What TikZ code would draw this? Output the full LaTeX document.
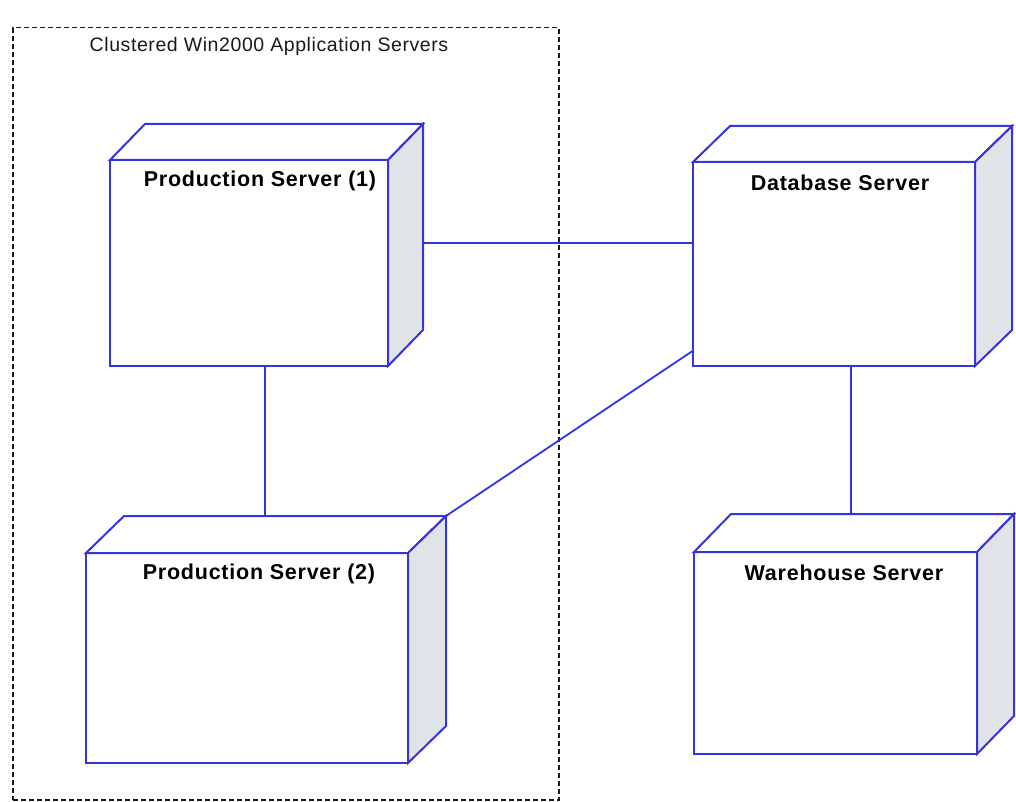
\documentclass[tikz,border=0pt]{standalone}
\usepackage{fontspec}
\setmainfont{Liberation Sans}
\usetikzlibrary{calc}
\definecolor{nodeblue}{RGB}{52,52,222}
\definecolor{sidegray}{RGB}{224,227,231}
\tikzset{
  front/.style={draw=nodeblue, line width=2pt, fill=white, rectangle, inner sep=0pt, outer sep=0pt, anchor=north west},
  face/.style={draw=nodeblue, line width=2pt, line join=miter},
  conn/.style={draw=nodeblue, line width=1.8pt},
  lbl/.style={font=\fontsize{21.5}{25}\selectfont\bfseries\addfontfeatures{LetterSpace=3.5}, text=black, inner sep=0pt},
  cluster/.style={draw=black!90, line width=1.5pt, dash pattern=on 5pt off 3pt},
  clbl/.style={font=\fontsize{19.5}{23}\selectfont\addfontfeatures{LetterSpace=3}, text=black!90, inner sep=0pt}
}
% front box + top + side faces; #1 name, #2 x, #3 y, #4 w, #5 h, #6 dx, #7 dy(up)
\newcommand{\serverbox}[7]{%
  \node[front, minimum width=#4pt, minimum height=#5pt] (#1) at (#2,#3) {};
  \coordinate (#1-bnw) at ($(#1.north west)+(#6,-#7)$);
  \coordinate (#1-bne) at ($(#1.north east)+(#6,-#7)$);
  \coordinate (#1-bse) at ($(#1.south east)+(#6,-#7)$);
  \filldraw[face, fill=white] (#1.north west) -- (#1-bnw) -- (#1-bne) -- (#1.north east) -- cycle;
  \filldraw[face, fill=sidegray] (#1.north east) -- (#1-bne) -- (#1-bse) -- (#1.south east) -- cycle;
}
\begin{document}
\begin{tikzpicture}[x=1pt,y=-1pt]
\useasboundingbox (0,0) rectangle (1016,802);
% cluster
\node[cluster, rectangle, minimum width=546pt, minimum height=772pt, anchor=north west, inner sep=0pt] (clus) at (12,27) {};
\node[clbl] (clustlbl) at (269,46) {Clustered Win2000 Application Servers};
% servers
\serverbox{ps1}{110}{160}{278}{206}{35}{36}
\serverbox{ps2}{86}{553}{322}{210}{38}{37}
\serverbox{db}{693}{162}{282}{204}{37}{36}
\serverbox{wh}{694}{552}{283}{202}{37}{38}
% labels
\node[lbl] (ps1lbl) at (260,181) {Production Server (1)};
\node[lbl] (ps2lbl) at (259,574) {Production Server (2)};
\node[lbl] (dblbl) at (840,183) {Database Server};
\node[lbl] (whlbl) at (844,573) {Warehouse Server};
% connectors
\coordinate (dbA) at ($(db.north west)!0.397!(db.south west)$);
\coordinate (dbB) at ($(db.north west)!0.925!(db.south west)$);
\coordinate (ps1S) at ($(ps1.south west)!0.557!(ps1.south east)$);
\coordinate (dbS) at ($(db.south west)!0.560!(db.south east)$);
\draw[conn] (ps1-bne |- dbA) -- (dbA);
\draw[conn] (ps1S) -- (ps1S |- ps2-bnw);
\draw[conn] (dbB) -- (ps2-bne);
\draw[conn] (dbS) -- (dbS |- wh-bnw);
\end{tikzpicture}
\end{document}
